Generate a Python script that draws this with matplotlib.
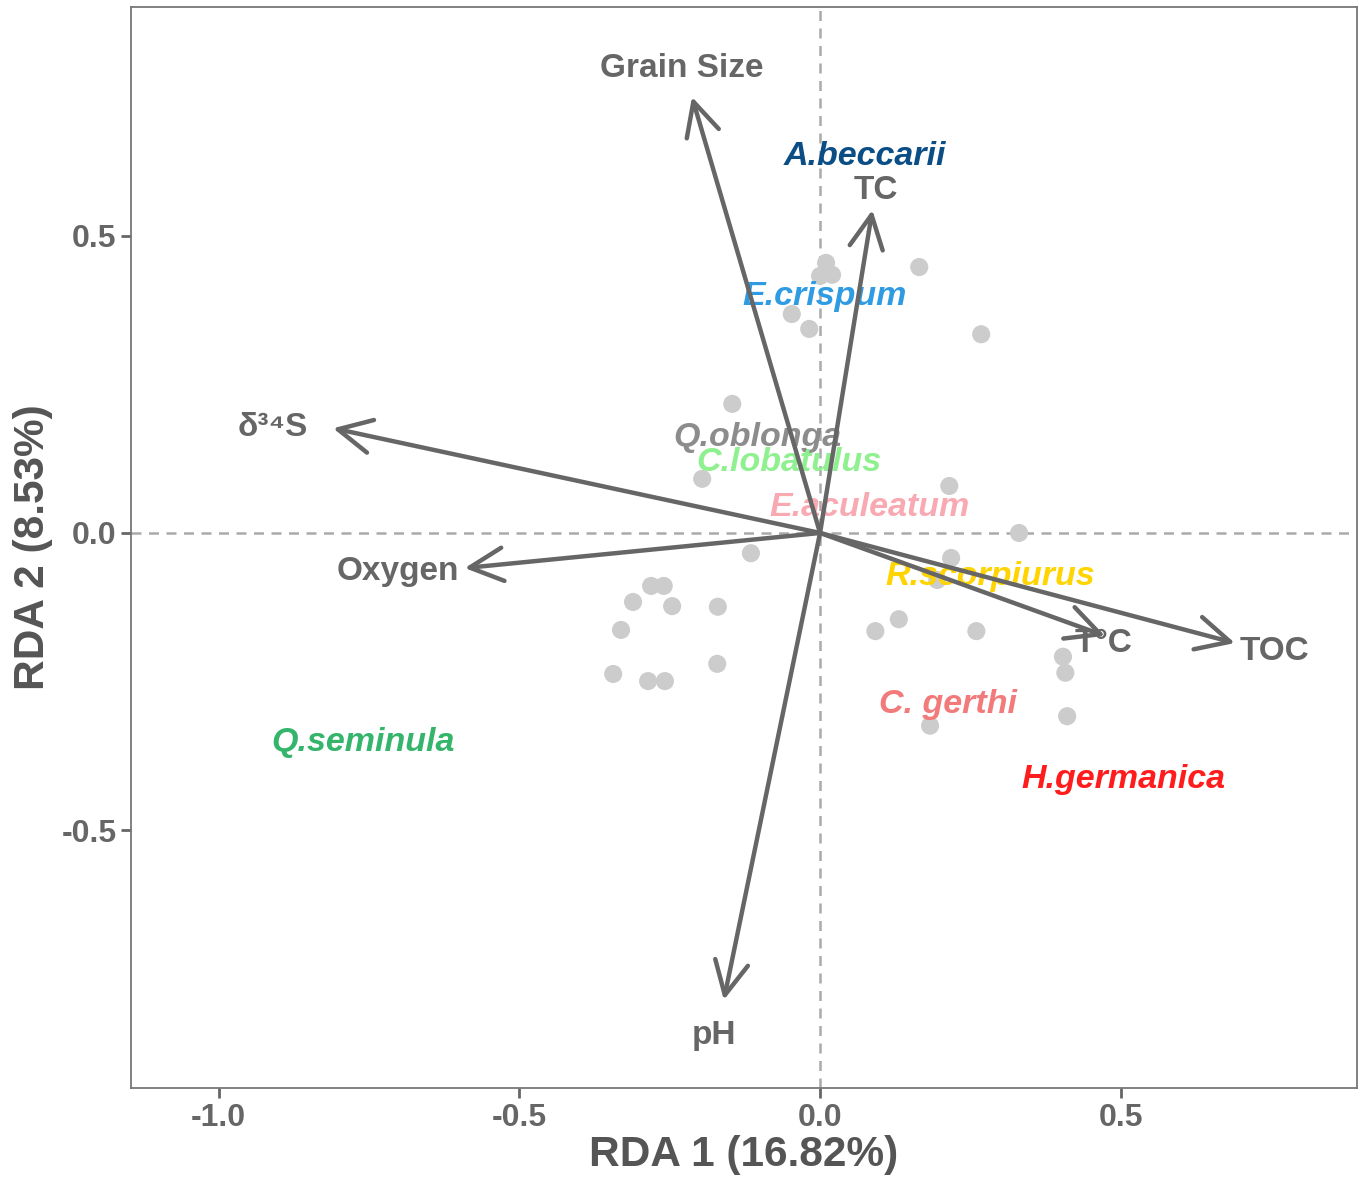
import numpy as np
import matplotlib.pyplot as plt

plt.rcParams['font.family'] = ['Liberation Sans', 'DejaVu Sans']

# site scores (RDA1, RDA2)
site_x = [0.010, 0.000, 0.020, 0.165, -0.047, -0.018, 0.268, -0.146, -0.196, 0.215,
          0.331, -0.115, 0.218, 0.195, -0.311, -0.281, -0.260, -0.246, -0.170, -0.331,
          -0.344, -0.286, -0.258, -0.171, 0.092, 0.131, 0.260, 0.404, 0.408, 0.411, 0.183]
site_y = [0.454, 0.432, 0.434, 0.447, 0.368, 0.343, 0.334, 0.217, 0.091, 0.079,
          0.000, -0.034, -0.042, -0.079, -0.116, -0.089, -0.089, -0.123, -0.124, -0.163,
          -0.237, -0.249, -0.249, -0.220, -0.165, -0.145, -0.165, -0.208, -0.235, -0.308, -0.324]

# environmental vectors
env_names = ['Grain Size', 'TC', 'δ³⁴S', 'Oxygen', 'pH', 'T°C', 'TOC']
env_x = [-0.213, 0.087, -0.810, -0.591, -0.160, 0.474, 0.690]
env_y = [0.733, 0.543, 0.176, -0.059, -0.785, -0.173, -0.185]
env_lab_x = [-0.230, 0.092, -0.910, -0.702, -0.176, 0.471, 0.755]
env_lab_y = [0.780, 0.576, 0.178, -0.064, -0.844, -0.185, -0.200]

# species labels
sp_names = ['A.beccarii', 'E.crispum', 'Q.oblonga', 'C.lobatulus', 'E.aculeatum',
            'R.scorpiurus', 'C. gerthi', 'Q.seminula', 'H.germanica']
sp_x = [0.075, 0.008, -0.105, -0.052, 0.083, 0.283, 0.213, -0.760, 0.504]
sp_y = [0.632, 0.397, 0.160, 0.118, 0.042, -0.074, -0.289, -0.353, -0.415]
sp_colors = ['#0b4d85', '#2f9be3', '#8c8c8c', '#8ff08f', '#f9a9b1',
             '#ffd400', '#f27a7a', '#35b46c', '#ff1c1c']

fig = plt.figure(figsize=(13.59, 11.77), dpi=100)
ax = fig.add_axes([0.0964, 0.0756, 0.9021, 0.9184])

ax.axhline(0, color='#aaaaaa', lw=1.8, ls=(0, (4, 3)), zorder=1)
ax.axvline(0, color='#aaaaaa', lw=1.8, ls=(0, (4, 3)), zorder=1)

ax.scatter(site_x, site_y, s=170, color='#cccccc', edgecolors='none', zorder=2)

for n, x, y, c in zip(sp_names, sp_x, sp_y, sp_colors):
    ax.text(x, y, n, color=c, fontsize=24.5, fontweight='bold', fontstyle='italic',
            ha='center', va='center', zorder=3)

for x, y in zip(env_x, env_y):
    ax.annotate('', xy=(x, y), xytext=(0, 0),
                arrowprops=dict(arrowstyle='->,head_length=0.8,head_width=0.4',
                                lw=3.2, color='#666666', mutation_scale=30,
                                shrinkA=0, shrinkB=0),
                zorder=4)

for n, x, y in zip(env_names, env_lab_x, env_lab_y):
    ax.text(x, y, n, color='#666666', fontsize=24, fontweight='bold',
            ha='center', va='center', zorder=5)

ax.set_xlim(-1.146, 0.893)
ax.set_ylim(-0.933, 0.884)
ax.set_xticks([-1.0, -0.5, 0.0, 0.5])
ax.set_yticks([-0.5, 0.0, 0.5])
ax.set_xticklabels(['-1.0', '-0.5', '0.0', '0.5'])
ax.set_yticklabels(['-0.5', '0.0', '0.5'])
ax.tick_params(labelsize=23, colors='#666666', length=7, width=2)
for lab in ax.get_xticklabels() + ax.get_yticklabels():
    lab.set_fontweight('bold')
for sp in ax.spines.values():
    sp.set_color('#777777')
    sp.set_linewidth(1.3)

ax.set_xlabel('RDA 1 (16.82%)', fontsize=30.5, fontweight='bold', color='#555555', labelpad=2)
ax.set_ylabel('RDA 2 (8.53%)', fontsize=30.5, fontweight='bold', color='#555555', labelpad=6)

fig.savefig('out.png', dpi=100)
